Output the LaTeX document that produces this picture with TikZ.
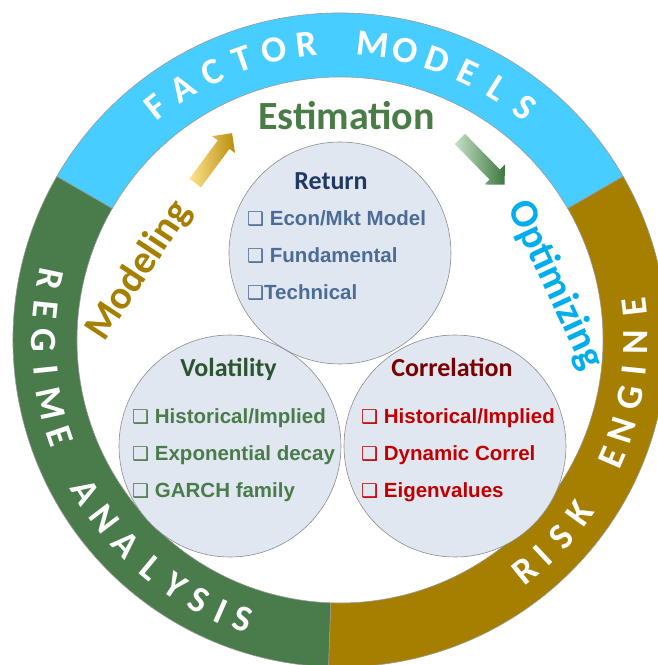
\documentclass[tikz,border=0pt]{standalone}
\usepackage{fontspec}
\setmainfont{Carlito}
\newfontfamily\itemfont{Liberation Sans}
\newfontfamily\boxfont{DejaVu Sans}
\usetikzlibrary{shapes.arrows}

\definecolor{ringblue}{HTML}{47CDFF}
\definecolor{ringgreen}{HTML}{4A7C4B}
\definecolor{ringgold}{HTML}{A67F00}
\definecolor{bubblefill}{HTML}{E1E7F0}
\definecolor{estgreen}{HTML}{4A7C48}
\definecolor{modgold}{HTML}{A67F00}
\definecolor{optblue}{HTML}{00ADEF}
\definecolor{retdark}{HTML}{1F3864}
\definecolor{retitem}{HTML}{4A6C96}
\definecolor{voldark}{HTML}{2B5530}
\definecolor{volitem}{HTML}{4A7C4B}
\definecolor{cordark}{HTML}{7A0000}
\definecolor{coritem}{HTML}{C00000}
\definecolor{yellowlight}{HTML}{FFE48E}
\definecolor{yellowdark}{HTML}{B88C0A}
\definecolor{greenlight}{HTML}{C6E0C5}
\definecolor{greendark}{HTML}{3D773E}

\newcommand{\cbox}{{\boxfont\bfseries\fontsize{19}{19}\selectfont ❑}}

\begin{document}
\begin{tikzpicture}[x=1pt, y=1pt,
    ringseg/.style={draw=gray!80, line width=0.6pt},
    ringletter/.style={text=white, inner sep=0pt, font=\fontsize{37}{37}\selectfont\bfseries},
    bubble/.style={circle, fill=bubblefill, minimum size=222pt, inner sep=0pt},
    bigword/.style={font=\fontsize{40}{40}\selectfont\bfseries, inner sep=0pt},
    title/.style={anchor=base, inner sep=0pt, font=\fontsize{26}{26}\selectfont\bfseries},
    item/.style={anchor=base west, inner sep=0pt, font=\fontsize{20.5}{20.5}\itemfont\bfseries},
    flow/.style={single arrow, draw=none, inner xsep=0pt, inner ysep=7pt,
      single arrow head extend=7pt}]
    \useasboundingbox (-340,-325) rectangle (318,340);
    \fill[white] (-340,-325) rectangle (318,340);
    \clip (-340,-325) rectangle (318,340);

    % outer ring in three coloured sectors
    \foreach \from/\to/\col in {30/150/ringblue, 150/268/ringgreen, 268/390/ringgold}
        \draw[ringseg, fill=\col] (\from:327pt) arc[start angle=\from, end angle=\to, radius=327pt]
            -- (\to:263pt) arc[start angle=\to, end angle=\from, radius=263pt] -- cycle;

    % letters along the ring
    \foreach \ang/\ch [count=\i] in {128.4/F, 122/A, 115.6/C, 109.2/T, 102.8/O, 96.4/R,
            83.6/M, 77.2/O, 70.8/D, 64.4/E, 58/L, 51.6/S}
        \node[ringletter, rotate=\ang-90] (fm\i) at (\ang:297pt) {\ch};
    \foreach \ang/\ch [count=\i] in {168.2/R, 174.2/E, 180/G, 185.8/I, 192.4/M, 198.9/E,
            210.8/A, 217.3/N, 223.6/A, 230.4/L, 236.1/Y, 241.5/S, 246.3/I, 250.8/S}
        \node[ringletter, rotate=\ang+90] (ra\i) at (\ang:296pt) {\ch};
    \foreach \ang/\ch [count=\i] in {-51.2/R, -46.7/I, -41.7/S, -35.8/K,
            -23.3/E, -17.7/N, -11.2/G, -5.8/I, -0.5/N, 6.5/E}
        \node[ringletter, rotate=\ang+90] (re\i) at (\ang:296pt) {\ch};

    % the three estimates
    \node[bubble] (ret) at (0,87) {};
    \node[bubble] (vol) at (-110,-106) {};
    \node[bubble] (cor) at (115,-106) {};
    \foreach \n in {ret,vol,cor}
        \draw[gray!90, line width=0.6pt] (\n.center) circle[radius=111pt];

    \node[title, text=retdark] (ret-title) at (-9,151) {Return};
    \node[title, text=voldark] (vol-title) at (-111.5,-36) {Volatility};
    \node[title, text=cordark] (cor-title) at (112,-36) {Correlation};

    \foreach \txt [count=\k] in {{\cbox\ Econ/Mkt Model}, {\cbox\ Fundamental}, {\cbox Technical}}
        \node[item, text=retitem] (ret-\k) at (-93,{152-37*\k}) {\txt};
    \foreach \txt [count=\k] in {{\cbox\ Historical/Implied}, {\cbox\ Exponential decay}, {\cbox\ GARCH family}}
        \node[item, text=volitem] (vol-\k) at (-208,{-46-37*\k}) {\txt};
    \foreach \txt [count=\k] in {{\cbox\ Historical/Implied}, {\cbox\ Dynamic Correl}, {\cbox\ Eigenvalues}}
        \node[item, text=coritem] (cor-\k) at (21,{-46-37*\k}) {\txt};

    % process words and arrows
    \node[bigword, anchor=base, text=estgreen] (est) at (6.5,211) {Estimation};
    \node[bigword, rotate=56.5, text=modgold] (mod) at (-201,69) {Modeling};
    \node[bigword, rotate=-65, text=optblue] (opt) at (215,55) {Optimizing};

    \node[flow, minimum height=62pt, rotate=53.5, left color=yellowlight, right color=yellowdark] (up-arrow) at (-128.5,179) {};
    \node[flow, minimum height=64pt, rotate=-45.6, left color=greenlight, right color=greendark] (down-arrow) at (139.75,180.75) {};
\end{tikzpicture}
\end{document}
